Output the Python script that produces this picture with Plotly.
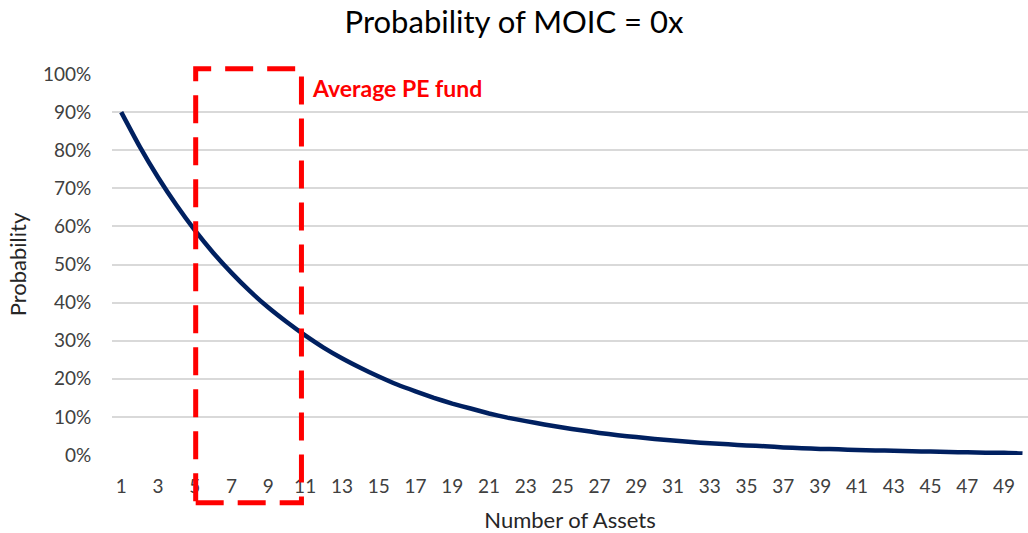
import plotly.graph_objects as go

# number of assets in the portfolio
assets = list(range(1, 51))

# probability that every asset returns 0x
prob_zero = [
    0.900, 0.810, 0.729, 0.656, 0.590, 0.531, 0.478, 0.430, 0.387, 0.349,
    0.314, 0.282, 0.254, 0.229, 0.206, 0.185, 0.167, 0.150, 0.135, 0.122,
    0.109, 0.098, 0.089, 0.080, 0.072, 0.065, 0.058, 0.052, 0.047, 0.042,
    0.038, 0.034, 0.031, 0.028, 0.025, 0.023, 0.020, 0.018, 0.016, 0.015,
    0.013, 0.012, 0.011, 0.010, 0.009, 0.008, 0.007, 0.006, 0.006, 0.004,
]

x_ticks = list(range(1, 51, 2))
y_ticks = [i / 10 for i in range(11)]

# "average PE fund" box, in number of assets
box_from, box_to = 5.05, 10.8

font_family = "Lato, 'Open Sans', sans-serif"

fig = go.Figure()

fig.add_trace(
    go.Scatter(
        x=assets,
        y=prob_zero,
        mode="lines",
        line=dict(color="#002060", width=4.5, shape="spline", smoothing=0.4),
        hoverinfo="x+y",
        showlegend=False,
    )
)

# red dashed box round 5-11 assets
fig.add_shape(
    type="rect",
    xref="x", yref="paper",
    x0=box_from, x1=box_to,
    y0=-0.125, y1=1.014,
    line=dict(color="#ff0000", width=5, dash="28px,14px"),
    fillcolor="rgba(0,0,0,0)",
    layer="above",
)

fig.add_annotation(
    text="<b>Average PE fund</b>",
    xref="x", yref="paper",
    x=box_to, y=0.963,
    xanchor="left", yanchor="middle",
    xshift=9,
    showarrow=False,
    font=dict(family=font_family, size=23, color="#ff0000"),
)

fig.update_layout(
    width=1028,
    height=533,
    margin=dict(l=112, r=0, t=74, b=78),
    paper_bgcolor="white",
    plot_bgcolor="white",
    font=dict(family=font_family, color="#404040"),
    title=dict(
        text="Probability of MOIC = 0x",
        x=0.5, xanchor="center",
        y=0.958, yanchor="middle",
        font=dict(family=font_family, size=31, color="#000000"),
    ),
    xaxis=dict(
        range=[0.5, 50.3],
        tickmode="array",
        tickvals=x_ticks,
        ticktext=[str(v) for v in x_ticks],
        ticks="outside", ticklen=14, tickcolor="rgba(0,0,0,0)",
        tickfont=dict(size=19, color="#404040"),
        showgrid=False,
        zeroline=False,
        showline=False,
        title=dict(text="Number of Assets", standoff=16,
                   font=dict(size=22, color="#262626")),
    ),
    yaxis=dict(
        range=[0, 1.0],
        tickmode="array",
        tickvals=y_ticks,
        ticktext=[f"{int(v * 100)}%" for v in y_ticks],
        ticks="outside", ticklen=16, tickcolor="rgba(0,0,0,0)",
        tickfont=dict(size=19, color="#404040"),
        showgrid=True, gridcolor="#d9d9d9", gridwidth=1.5,
        zeroline=False,
        showline=False,
        title=dict(text="Probability", standoff=10,
                   font=dict(size=22, color="#262626")),
    ),
)

# drop the page's default 8px body margin so the chart sits at 0,0
fig.write_html(
    "out.html",
    config={"displayModeBar": False},
    post_script="document.body.style.margin = '0';",
)
